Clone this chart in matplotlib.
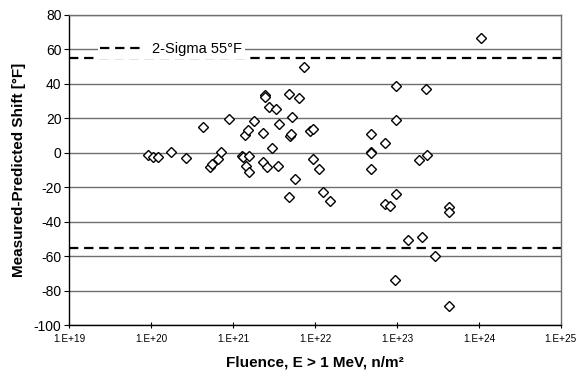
import numpy as np
import matplotlib
matplotlib.use("Agg")
import matplotlib.pyplot as plt
from matplotlib.ticker import FixedLocator, NullLocator

plt.rcParams['font.family'] = ['Liberation Sans', 'DejaVu Sans']

# log10 of fluence (n/m^2) and measured-predicted shift (degF)
log_fluence = [19.96, 20.02, 20.08, 20.24, 20.43, 20.63, 20.72, 20.74, 20.82, 20.85,
               20.95, 21.11, 21.12, 21.14, 21.18, 21.16, 21.19, 21.20, 21.26, 21.37,
               21.39, 21.39, 21.44, 21.52, 21.56, 21.47, 21.37, 21.41, 21.55, 21.68,
               21.72, 21.69, 21.71, 21.75, 21.81, 21.68, 21.87, 21.94, 21.97, 21.98,
               22.05, 22.10, 22.18, 22.99, 22.99, 22.68, 22.85, 22.68, 22.68, 22.68,
               23.27, 23.37, 22.99, 22.85, 22.92, 23.63, 23.63, 23.13, 23.31, 23.47,
               22.98, 23.63, 24.03, 23.36]
shift = [-1.4, -2.7, -2.7, 0.6, -3.2, 15.1, -8.1, -6.7, -3.8, 0.6,
         19.6, -1.9, -2.3, 10.3, 13.2, -7.7, -11.3, -1.7, 18.6, 11.7,
         33.5, 32.2, 26.8, 25.4, 16.7, 2.6, -5.2, -8.4, -7.5, 34.1,
         21.0, 9.9, 10.7, -15.2, 31.6, -25.5, 49.6, 12.8, 13.8, -3.6,
         -9.6, -22.6, -27.8, 38.8, 19.0, 10.9, 5.9, 0.6, 0.0, -9.4,
         -4.2, -1.3, -24.1, -29.8, -30.7, -31.3, -34.2, -50.6, -48.7, -60.0,
         -73.9, -88.8, 66.5, 37.0]
sigma = 55
x_ticks = [1e19, 1e20, 1e21, 1e22, 1e23, 1e24, 1e25]
x_labels = ['1.E+19', '1.E+20', '1.E+21', '1.E+22', '1.E+23', '1.E+24', '1.E+25']
y_ticks = list(range(-100, 81, 20))

fig = plt.figure(figsize=(5.77, 3.72), dpi=100)
ax = fig.add_axes([0.120, 0.126, 0.852, 0.834])

fluence = 10.0 ** np.array(log_fluence)

for yv in y_ticks:
    ax.axhline(yv, color='#6e6e6e', lw=1.0, zorder=1)

dash_line, = ax.plot([1e19, 1e25], [sigma, sigma], color='black', lw=1.6,
                     dashes=(4.2, 2.6), zorder=2, label='2-Sigma 55\u00b0F')
ax.plot([1e19, 1e25], [-sigma, -sigma], color='black', lw=1.6,
        dashes=(4.2, 2.6), zorder=2)

ax.plot(fluence, shift, linestyle='none', marker='D', ms=4.6, mfc='white',
        mec='black', mew=1.0, zorder=3)

ax.set_xscale('log')
ax.set_xlim(1e19, 1e25)
ax.set_ylim(-100, 80)
ax.xaxis.set_major_locator(FixedLocator(x_ticks))
ax.xaxis.set_minor_locator(NullLocator())
ax.set_xticklabels(x_labels, fontsize=7.2)
ax.set_yticks(y_ticks)
ax.set_yticklabels([str(v) for v in y_ticks], fontsize=10)
ax.tick_params(axis='x', direction='inout', length=5, width=0.8, pad=4)
ax.tick_params(axis='y', direction='out', length=3.5, width=0.8, pad=2)

for side in ['left', 'bottom']:
    ax.spines[side].set_color('black')
    ax.spines[side].set_linewidth(1.0)
for side in ['top', 'right']:
    ax.spines[side].set_color('#6e6e6e')
    ax.spines[side].set_linewidth(1.0)

ax.set_xlabel('Fluence, E > 1 MeV, n/m\u00b2', fontsize=11, fontweight='bold', labelpad=8)
ax.set_ylabel('Measured-Predicted Shift [\u00b0F]', fontsize=11, fontweight='bold', labelpad=6)

leg = ax.legend(handles=[dash_line], loc='center left', bbox_to_anchor=(0.058, 0.889),
                fontsize=10.5, frameon=True, handlelength=2.9, handletextpad=0.7,
                borderpad=0.15, borderaxespad=0.0)
leg.get_frame().set_facecolor('white')
leg.get_frame().set_edgecolor('none')
leg.get_frame().set_alpha(1.0)
leg.get_frame().set_boxstyle('square', pad=0.0)
leg.set_zorder(5)

fig.savefig('out.png', dpi=100, facecolor='white')
